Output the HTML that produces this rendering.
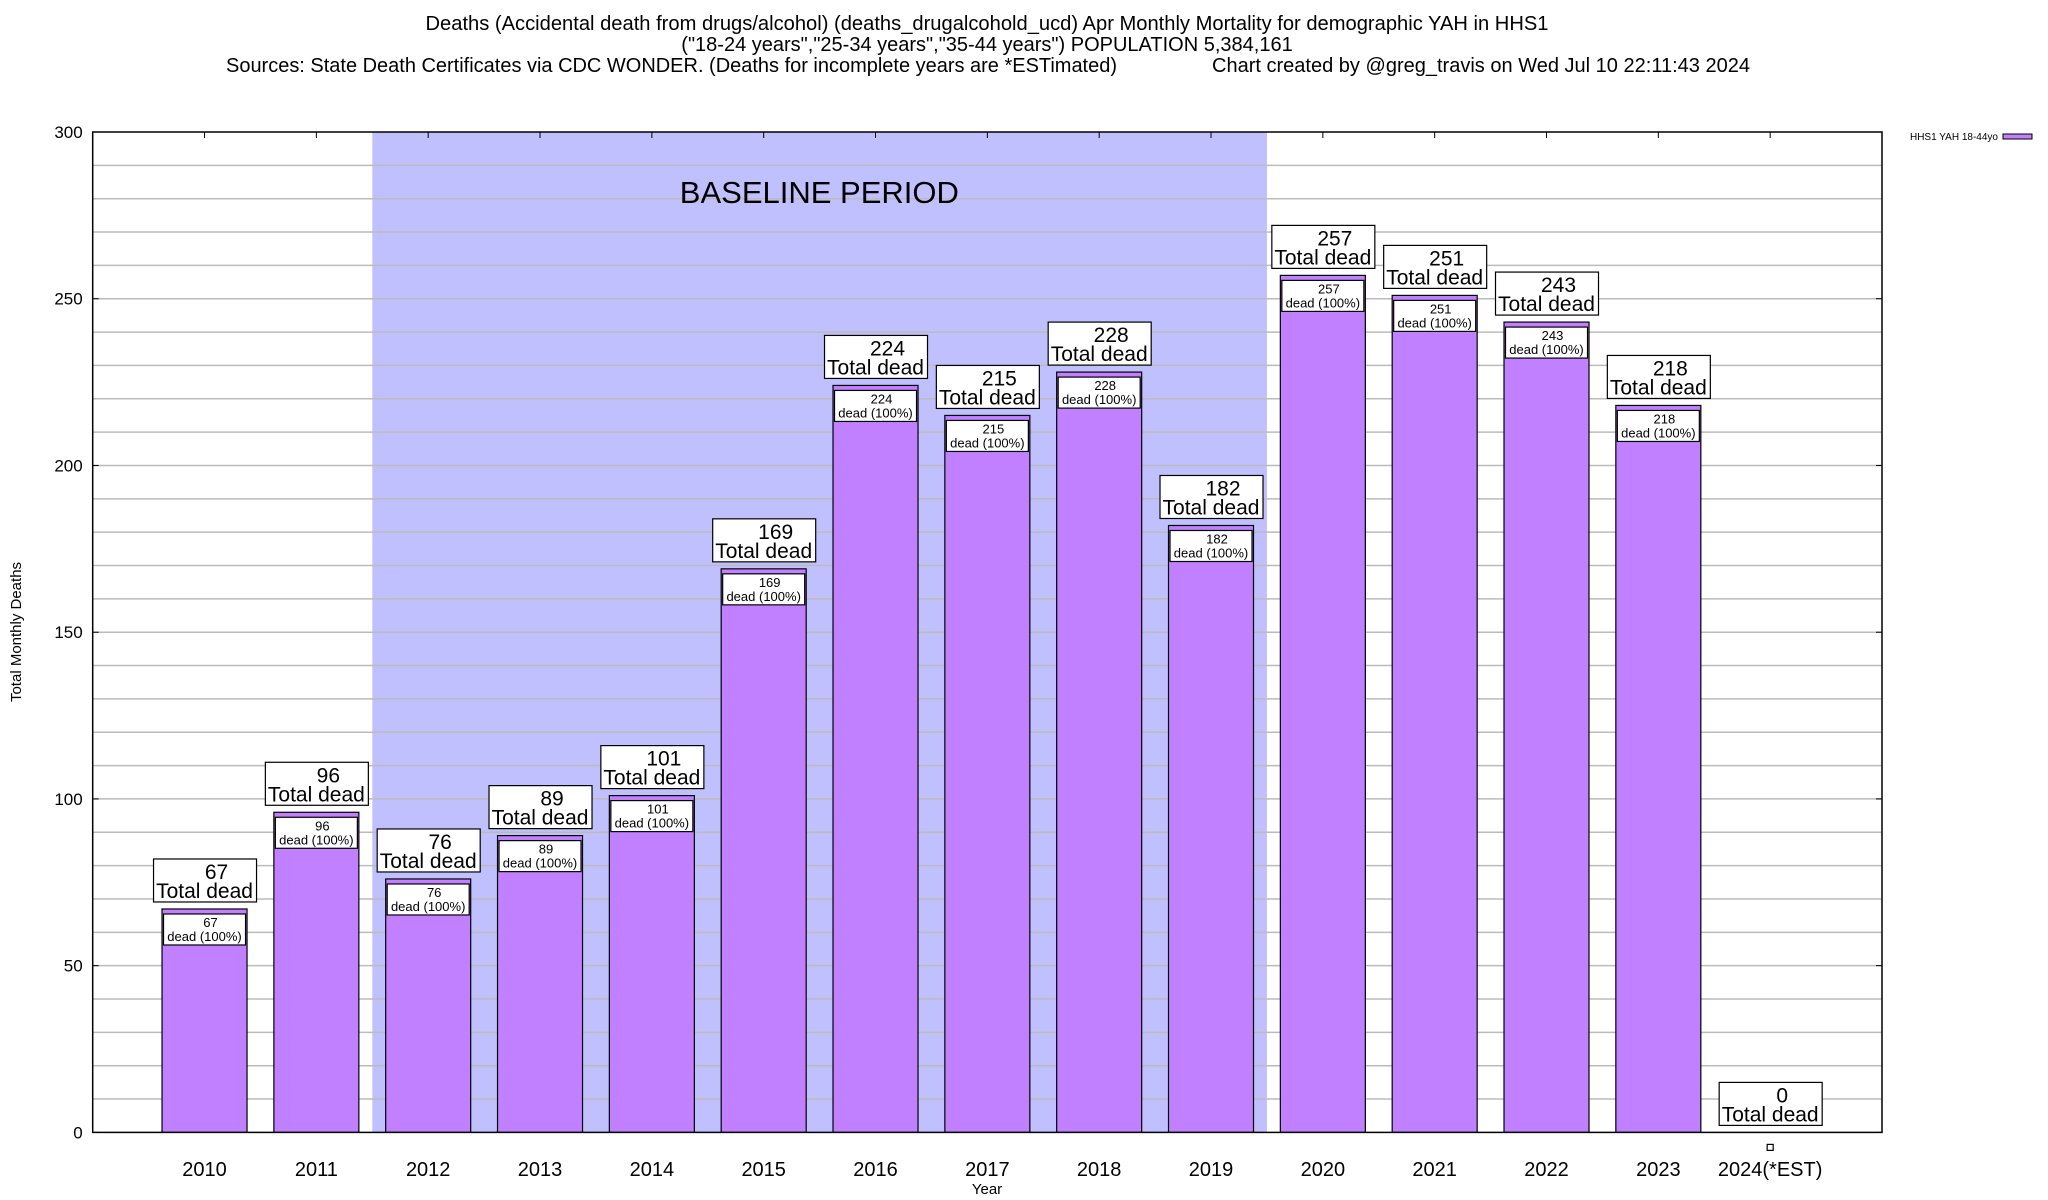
<!DOCTYPE html>
<html><head><meta charset="utf-8"><style>
body{margin:0;background:#fff}
svg{display:block;font-family:"Liberation Sans",Arial,sans-serif}
</style></head><body>
<svg id="chart" width="2048" height="1200" viewBox="0 0 2048 1200">
<g font-size="20" fill="#000">
<text x="987" y="30" text-anchor="middle" textLength="1123" lengthAdjust="spacingAndGlyphs">Deaths (Accidental death from drugs/alcohol) (deaths_drugalcohold_ucd) Apr Monthly Mortality for demographic YAH in HHS1</text>
<text x="987" y="51" text-anchor="middle">("18-24 years","25-34 years","35-44 years") POPULATION 5,384,161</text>
<text x="226" y="72" textLength="891" lengthAdjust="spacingAndGlyphs">Sources: State Death Certificates via CDC WONDER. (Deaths for incomplete years are *ESTimated)</text>
<text x="1212" y="72" textLength="538" lengthAdjust="spacingAndGlyphs">Chart created by @greg_travis on Wed Jul 10 22:11:43 2024</text>
</g>
<g id="plot"></g>
</svg>
<script>
const categories=["2010","2011","2012","2013","2014","2015","2016","2017","2018","2019","2020","2021","2022","2023","2024(*EST)"];
const values=[67,96,76,89,101,169,224,215,228,182,257,251,243,218,0];
const yTicks=[0,50,100,150,200,250,300];
const baselineStart=1.5, baselineEnd=9.5;
const L=92.7,R=1882,T=132,B=1132.4;
const NS="http://www.w3.org/2000/svg";
const g=document.getElementById('plot');
function X(i){return L+(i+1)*(R-L)/16;}
function Y(v){return B-v*(B-T)/300;}
function el(tag,attrs,parent){const e=document.createElementNS(NS,tag);for(const k in attrs)e.setAttribute(k,attrs[k]);(parent||g).appendChild(e);return e;}
function txt(x,y,s,size,anchor,parent){const t=el('text',{x:x,y:y,'font-size':size,'text-anchor':anchor||'middle'},parent);t.textContent=s;return t;}
const sh=el('rect',{x:X(baselineStart),y:T,width:X(baselineEnd)-X(baselineStart),height:B-T,fill:'#c0c0ff'});


for(let v=10;v<300;v+=10){const l=el('line',{x1:L,x2:R,y1:Y(v),y2:Y(v),stroke:'#bbb','stroke-width':1.5});

}
const bt=txt((L+R)/2-168,203,'BASELINE PERIOD',31);


yTicks.forEach(v=>{const t=txt(L-10,Y(v)+6,String(v),17,'end');


el('line',{x1:L,x2:L+6,y1:Y(v),y2:Y(v),stroke:'#000'});el('line',{x1:R-6,x2:R,y1:Y(v),y2:Y(v),stroke:'#000'});});
const bw=85;
values.forEach((v,i)=>{
 const cx=X(i);
 el('line',{x1:cx,x2:cx,y1:T,y2:T+6,stroke:'#000'});
 const xl=txt(cx,1176,categories[i],20);
 
 
 const bgrp=el('g',{});
 
 
 const top=Y(v);
 if(v>0){
  el('rect',{x:cx-bw/2,y:top,width:bw,height:B-top,fill:'#c080ff',stroke:'#000','stroke-width':1.2},bgrp);
  el('rect',{x:cx-41,y:top+5,width:82,height:31,fill:'#fff',stroke:'#000','stroke-width':1.2},bgrp);
  txt(cx+6,top+18,String(v),13,'middle',bgrp);
  txt(cx,top+32,'dead (100%)',13,'middle',bgrp);
 } else {
  el('rect',{x:cx-3,y:B+12,width:6,height:6,fill:'#fff',stroke:'#000','stroke-width':1.2},bgrp);
 }
 const lab=el('g',{});
 
 
 el('rect',{x:cx-51,y:top-50,width:103,height:43,fill:'#fff',stroke:'#000','stroke-width':1.2},lab);
 txt(cx+12,top-30,String(v),21,'middle',lab);
 txt(cx,top-11,'Total dead',21,'middle',lab);
});
const fr=el('rect',{x:L,y:T,width:R-L,height:B-T,fill:'none',stroke:'#000','stroke-width':1.5});


const xt=txt(987,1194,'Year',15);


const yt=txt(0,0,'Total Monthly Deaths',15);
yt.setAttribute('transform','translate(21,632) rotate(-90)');


const lg=el('g',{});


txt(1998,140,'HHS1 YAH 18-44yo',10,'end',lg);
el('rect',{x:2003,y:134,width:29,height:5,fill:'#c080ff',stroke:'#000','stroke-width':1},lg);
</script>
</body></html>
